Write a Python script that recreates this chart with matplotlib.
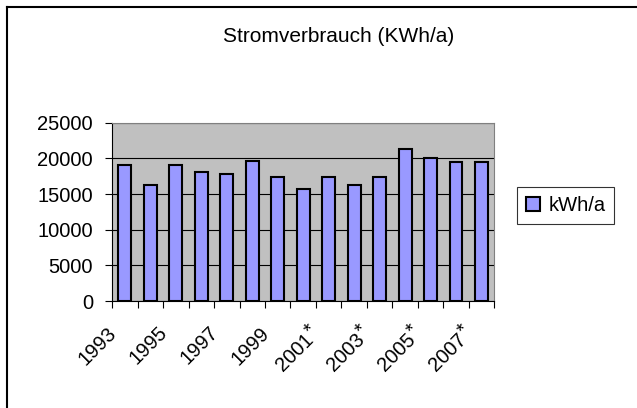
import numpy as np
import matplotlib.pyplot as plt
from matplotlib.lines import Line2D
from matplotlib.transforms import offset_copy

plt.rcParams['font.family'] = ['Liberation Sans', 'DejaVu Sans']

years = ['1993', '1994', '1995', '1996', '1997', '1998', '1999', '2000',
         '2001*', '2002*', '2003*', '2004*', '2005*', '2006*', '2007*']
verbrauch = [19130, 16320, 19130, 18050, 17770, 19700, 17450, 15760,
             17450, 16320, 17450, 21380, 20020, 19460, 19460]
yticks = [0, 5000, 10000, 15000, 20000, 25000]

fs = 14.5

fig = plt.figure(figsize=(6.37, 4.08), dpi=100)
ax = fig.add_axes([0.176, 0.262, 0.6, 0.437])
ax.set_facecolor('#c0c0c0')

x = np.arange(len(years))
ax.bar(x, verbrauch, width=0.5, color='#9999ff', edgecolor='black',
       linewidth=1.5, label='kWh/a', zorder=3)

ax.set_xlim(-0.5, len(years) - 0.5)
ax.set_ylim(0, 25000)
ax.set_yticks(yticks)
ax.yaxis.grid(True, color='black', linewidth=0.8, zorder=1)
ax.tick_params(axis='y', labelsize=fs, length=5, direction='out', pad=8.7)

# Excel style: ticks between categories, labels every second year
ax.set_xticks(np.arange(-0.5, len(years), 1))
ax.set_xticklabels([])
ax.tick_params(axis='x', length=5, direction='out')
num_tr = offset_copy(ax.transData, fig=fig, x=-5.1, y=-5.1, units='points')
star_tr = offset_copy(ax.transData, fig=fig, x=-3.2, y=2.0, units='points')
for i in range(0, len(years), 2):
    lab = years[i]
    kw = dict(rotation=45, rotation_mode='anchor', ha='right', va='top',
              fontsize=fs)
    if lab.endswith('*'):
        ax.text(i - 0.7, -3100, lab[:-1], transform=num_tr, **kw)
        ax.text(i - 0.7, -3100, '*', transform=star_tr, **kw)
    else:
        ax.text(i - 0.7, -3100, lab, **kw)

for side in ['top', 'right']:
    ax.spines[side].set_color('#808080')

fig.text(0.532, 0.91, 'Stromverbrauch (KWh/a)', ha='center', va='center',
         fontsize=15)

leg = fig.legend(*ax.get_legend_handles_labels(), loc='upper left',
                 bbox_to_anchor=(517 / 637, 1 - 187 / 408),
                 fontsize=fs, frameon=True, fancybox=False,
                 handlelength=0.7, handleheight=0.7, borderpad=0.45,
                 handletextpad=0.4, borderaxespad=0)
leg.get_frame().set_edgecolor('black')
leg.get_frame().set_linewidth(0.8)

# outer border of the chart area
fig.add_artist(Line2D([7 / 637, 7 / 637], [0, 1 - 7 / 408], color='black', linewidth=1.5))
fig.add_artist(Line2D([7 / 637, 1], [1 - 7 / 408, 1 - 7 / 408], color='black', linewidth=1.5))

fig.savefig('out.png', dpi=100)
